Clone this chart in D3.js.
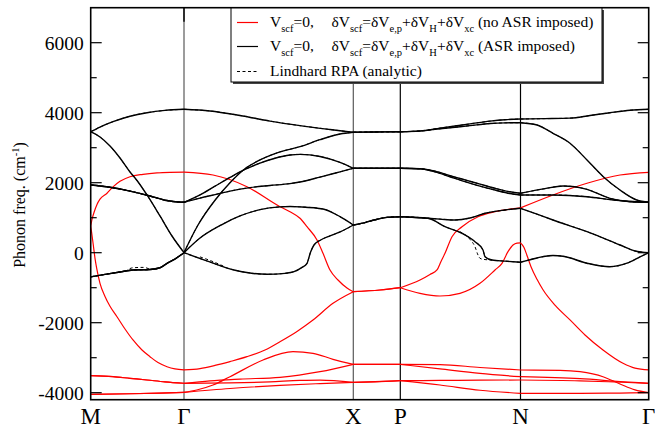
<!DOCTYPE html>
<html><head><meta charset="utf-8">
<script src="https://cdn.jsdelivr.net/npm/d3@7"></script>
<style>body{margin:0;background:#fff;} text{font-family:"Liberation Serif","DejaVu Serif","Times New Roman",Times,serif;}</style>
</head><body><svg id="c" width="655" height="428" font-family="Liberation Serif, DejaVu Serif, Times New Roman, serif"></svg>
<script>
// ---- data ----
const kLabels = ["M","Γ","X","P","N","Γ"];
const kPos = [0,0.933,2.626,3.096,4.298,5.58];
const yMajor = [-4000,-2000,0,2000,4000,6000];
const yMinor = [-3000,-1000,1000,3000,5000];
const yDomain = [-4200,7000];

// ASR imposed (black solid)
const asr1 = [[0,3457],[0.093,3590],[0.223,3743],[0.393,3900],[0.563,4000],[0.743,4065],[0.933,4097],[1.193,4050],[1.493,3920],[1.793,3760],[2.093,3630],[2.393,3520],[2.626,3440],[2.843,3450],[3.096,3457],[3.293,3480],[3.493,3560],[3.793,3680],[3.993,3760],[4.143,3800],[4.298,3820],[4.543,3830],[4.793,3845],[4.993,3920],[5.193,4000],[5.393,4070],[5.58,4097]];
const asr2 = [[0,3457],[0.093,3306],[0.193,3049],[0.293,2706],[0.393,2306],[0.463,2063],[0.563,1649],[0.693,1049],[0.813,477],[0.933,0],[1.073,791],[1.243,1500],[1.393,2000],[1.543,2400],[1.693,2650],[1.893,2880],[2.093,3029],[2.293,3230],[2.493,3390],[2.626,3440],[2.843,3450],[3.096,3457],[3.293,3475],[3.493,3540],[3.793,3630],[3.993,3690],[4.143,3710],[4.298,3714],[4.463,3649],[4.623,3411],[4.793,3126],[4.963,2649],[5.126,2171],[5.293,1791],[5.46,1506],[5.58,1440]];
const asr3 = [[0,1934],[0.193,1870],[0.393,1760],[0.593,1620],[0.743,1500],[0.933,1440],[1.093,1560],[1.243,1660],[1.393,1760],[1.593,1860],[1.793,1920],[1.993,1975],[2.093,2020],[2.293,2160],[2.493,2310],[2.626,2411],[2.843,2411],[3.096,2411],[3.293,2400],[3.443,2330],[3.593,2200],[3.743,2080],[3.893,1960],[4.043,1840],[4.193,1740],[4.298,1697],[4.543,1830],[4.723,1906],[4.963,1811],[5.193,1554],[5.393,1457],[5.58,1440]];
const asr4 = [[0,1934],[0.193,1870],[0.393,1760],[0.593,1620],[0.743,1500],[0.933,1440],[1.093,1650],[1.243,1900],[1.393,2150],[1.543,2380],[1.693,2560],[1.843,2700],[1.993,2791],[2.093,2810],[2.293,2750],[2.493,2580],[2.626,2411],[2.843,2411],[3.096,2411],[3.293,2395],[3.443,2310],[3.593,2170],[3.743,2030],[3.893,1900],[4.043,1790],[4.193,1690],[4.298,1649],[4.623,1649],[4.963,1600],[5.223,1506],[5.58,1440]];
const asr5 = [[0,-690],[0.143,-620],[0.293,-550],[0.423,-494],[0.593,-480],[0.693,-430],[0.763,-303],[0.853,-160],[0.933,0],[1.093,420],[1.303,791],[1.493,1050],[1.693,1230],[1.893,1310],[1.993,1320],[2.093,1310],[2.323,1250],[2.493,1029],[2.626,791],[2.743,860],[2.843,940],[2.963,1010],[3.096,1029],[3.293,1000],[3.493,960],[3.643,934],[3.793,990],[3.943,1126],[4.143,1220],[4.298,1269],[4.463,1100],[4.623,934],[4.963,600],[5.293,220],[5.443,50],[5.58,0]];
const asr6 = [[0,-690],[0.143,-620],[0.293,-550],[0.423,-494],[0.593,-480],[0.693,-430],[0.763,-303],[0.853,-160],[0.933,0],[1.183,-257],[1.433,-494],[1.593,-580],[1.763,-617],[1.943,-590],[2.033,-543],[2.113,-420],[2.163,-303],[2.2,29],[2.233,220],[2.3,363],[2.393,480],[2.5,600],[2.626,791],[2.743,860],[2.843,940],[2.963,1010],[3.096,1029],[3.373,983],[3.543,743],[3.713,554],[3.843,314],[3.923,77],[3.943,-114],[4.013,-209],[4.143,-240],[4.298,-274],[4.463,-150],[4.623,-80],[4.723,-100],[4.963,-300],[5.193,-400],[5.363,-300],[5.493,-120],[5.58,0]];

// Lindhard RPA (dashed): follows the ASR bands, with these visible deviations
const lind1 = [[0.343,-540],[0.423,-430],[0.523,-420],[0.593,-470]];
const lind2 = [[3.693,600],[3.793,380],[3.843,171],[3.873,-66],[3.893,-160],[3.923,-189],[4.013,-209]];
const lind3 = [[1.093,-120],[1.183,-210],[1.333,-390]];

// no ASR imposed (red)
const noasr1 = [[0,760],[0.013,950],[0.033,1150],[0.063,1380],[0.093,1530],[0.163,1700],[0.223,1880],[0.293,2040],[0.393,2171],[0.523,2240],[0.663,2280],[0.793,2295],[0.933,2300],[1.223,2220],[1.563,1886],[1.893,1314],[1.993,1171],[2.093,983],[2.163,743],[2.263,363],[2.323,-17],[2.393,-494],[2.473,-780],[2.563,-1009],[2.626,-1114],[2.893,-1066],[3.096,-1000],[3.293,-780],[3.393,-620],[3.463,-494],[3.503,-250],[3.543,-17],[3.613,457],[3.713,743],[3.873,1029],[4.043,1171],[4.298,1280],[4.623,1649],[4.963,1983],[5.293,2220],[5.58,2297]];
const noasr2 = [[0,760],[0.008,600],[0.026,220],[0.043,-160],[0.06,-446],[0.093,-874],[0.143,-1250],[0.193,-1530],[0.263,-1829],[0.343,-2180],[0.423,-2494],[0.513,-2780],[0.593,-2971],[0.673,-3140],[0.763,-3257],[0.843,-3320],[0.933,-3350],[1.093,-3310],[1.243,-3220],[1.393,-3110],[1.563,-2971],[1.743,-2780],[1.893,-2543],[2.063,-2250],[2.223,-1923],[2.423,-1446],[2.626,-1114],[2.893,-1066],[3.096,-1000],[3.293,-1160],[3.493,-1237],[3.693,-1160],[3.893,-874],[4.043,-494],[4.113,-303],[4.173,29],[4.223,220],[4.263,275],[4.298,280],[4.333,150],[4.363,-80],[4.403,-400],[4.463,-760],[4.523,-1060],[4.643,-1500],[4.793,-1920],[4.943,-2350],[5.123,-2780],[5.323,-3160],[5.443,-3300],[5.58,-3350]];
const noasr3 = [[0,-3514],[0.223,-3543],[0.393,-3590],[0.563,-3637],[0.743,-3690],[0.933,-3731],[1.193,-3660],[1.493,-3610],[1.893,-3560],[2.293,-3400],[2.626,-3189],[2.843,-3189],[3.096,-3189],[3.493,-3195],[3.893,-3280],[4.298,-3351],[4.693,-3360],[4.893,-3400],[5.123,-3543],[5.293,-3750],[5.443,-3920],[5.58,-4000]];
const noasr4 = [[0,-3514],[0.223,-3543],[0.393,-3590],[0.563,-3637],[0.743,-3690],[0.933,-3731],[1.393,-3720],[1.793,-3690],[2.093,-3650],[2.293,-3640],[2.626,-3703],[2.843,-3690],[3.096,-3657],[3.493,-3650],[3.893,-3640],[4.298,-3637],[4.893,-3660],[5.293,-3700],[5.58,-3731]];
const noasr5 = [[0,-4050],[0.393,-4030],[0.693,-4010],[0.933,-3989],[1.06,-3923],[1.223,-3780],[1.393,-3543],[1.723,-3066],[2.023,-2829],[2.223,-2874],[2.423,-3046],[2.626,-3189],[2.843,-3189],[3.096,-3189],[3.493,-3320],[3.893,-3450],[4.298,-3543],[4.893,-3600],[5.293,-3680],[5.58,-3731]];
const noasr6 = [[0,-4050],[0.393,-4030],[0.693,-4010],[0.933,-3989],[1.393,-3880],[1.893,-3790],[2.293,-3740],[2.626,-3703],[2.843,-3686],[3.096,-3657],[3.493,-3780],[3.893,-3930],[4.298,-4017],[4.893,-4017],[5.293,-4010],[5.58,-4000]];

const legendRows = [
  [["V"],["scf","sub"],["=0,"],["δV","tab"],["scf","sub"],["=δV"],["e,p","sub"],["+δV"],["H","sub"],["+δV"],["xc","sub"],[" (no ASR imposed)"]],
  [["V"],["scf","sub"],["=0,"],["δV","tab"],["scf","sub"],["=δV"],["e,p","sub"],["+δV"],["H","sub"],["+δV"],["xc","sub"],[" (ASR imposed)"]],
  [["Lindhard RPA (analytic)"]]
];

// ---- drawing ----
const FONT = "Liberation Serif, DejaVu Serif, Times New Roman, serif";
const svg = d3.select("#c");
const X0=90.7, X1=648.7, Y0=7.7, Y1=399.7;
const x = d3.scaleLinear().domain([kPos[0], kPos[kPos.length-1]]).range([X0,X1]);
const y = d3.scaleLinear().domain(yDomain).range([Y1,Y0]);
const line = d3.line().x(d=>x(d[0])).y(d=>y(d[1])).curve(d3.curveMonotoneX);

svg.append("rect").attr("width",655).attr("height",428).attr("fill","#fff");
svg.append("clipPath").attr("id","clip").append("rect")
  .attr("x",X0).attr("y",Y0).attr("width",X1-X0).attr("height",Y1-Y0);

// vertical lines at high-symmetry points
kPos.slice(1,kPos.length-1).forEach((k,i)=>{
  svg.append("line").attr("x1",x(k)).attr("x2",x(k)).attr("y1",Y0).attr("y2",Y1)
    .attr("stroke", i<2 ? "#5a5a5a" : "#000").attr("stroke-width",1.2);
});
svg.append("line").attr("x1",x(kPos[1])).attr("x2",x(kPos[1])).attr("y1",Y0).attr("y2",Y0+14)
  .attr("stroke","#000").attr("stroke-width",1.4);

function segments(band){
  const out=[];
  for(let i=0;i<kPos.length-1;i++){
    const s = band.filter(d=>d[0]>=kPos[i]-1e-9 && d[0]<=kPos[i+1]+1e-9);
    if(s.length>1) out.push(s);
  }
  return out;
}
function drawBands(g, bands, stroke, width, dash, split){
  bands.forEach(b=>{
    (split?segments(b):[b]).forEach(s=>{
      const p = g.append("path").attr("d",line(s)).attr("fill","none")
        .attr("stroke",stroke).attr("stroke-width",width).attr("stroke-linejoin","round");
      if(dash) p.attr("stroke-dasharray",dash);
    });
  });
}
const g = svg.append("g").attr("clip-path","url(#clip)");
drawBands(g,[noasr1,noasr2,noasr3,noasr4,noasr5,noasr6],"#ff0000",1.2,null,true);
drawBands(g,[asr1,asr2,asr3,asr4,asr5,asr6],"#000",1.4,null,true);
drawBands(g,[asr1,asr2,asr3,asr4,asr5,asr6],"#000",1.0,"3,2.5",true);
drawBands(g,[lind1,lind2,lind3],"#000",1.0,"3,2.5",false);

// frame
svg.append("rect").attr("x",X0).attr("y",Y0).attr("width",X1-X0).attr("height",Y1-Y0)
  .attr("fill","none").attr("stroke","#000").attr("stroke-width",1.6);

// y ticks (both sides, inward)
yMajor.forEach(v=>{
  svg.append("line").attr("x1",X0).attr("x2",X0+11).attr("y1",y(v)).attr("y2",y(v)).attr("stroke","#000").attr("stroke-width",1.2);
  svg.append("line").attr("x1",X1).attr("x2",X1-11).attr("y1",y(v)).attr("y2",y(v)).attr("stroke","#000").attr("stroke-width",1.2);
  svg.append("text").attr("font-family",FONT).attr("x",X0-7).attr("y",y(v)).attr("dy","0.36em").attr("text-anchor","end")
    .attr("font-size",19.5).text(v);
});
yMinor.forEach(v=>{
  svg.append("line").attr("x1",X0).attr("x2",X0+6).attr("y1",y(v)).attr("y2",y(v)).attr("stroke","#000").attr("stroke-width",1.2);
  svg.append("line").attr("x1",X1).attr("x2",X1-6).attr("y1",y(v)).attr("y2",y(v)).attr("stroke","#000").attr("stroke-width",1.2);
});

// x labels
kLabels.forEach((l,i)=>{
  svg.append("text").attr("font-family",FONT).attr("x",x(kPos[i])).attr("y",424).attr("text-anchor","middle")
    .attr("font-size",23).text(l);
});

// y label
const yl = svg.append("text").attr("font-family",FONT).attr("transform","translate(25,205) rotate(-90)")
  .attr("text-anchor","middle").attr("font-size",16);
yl.append("tspan").text("Phonon freq. (cm");
yl.append("tspan").attr("font-size",10.5).attr("dy",-6).text("-1");
yl.append("tspan").attr("dy",6).text(")");

// legend
const lg = svg.append("g");
lg.append("rect").attr("x",233).attr("y",10).attr("width",371).attr("height",74).attr("fill","#444");
lg.append("rect").attr("x",231).attr("y",8).attr("width",371).attr("height",74)
  .attr("fill","#fff").attr("stroke","#000").attr("stroke-width",1);
const rowBase=[27,51,76], rowLine=[22.5,46.5,71.5];
const rowStroke=["#ff0000","#000","#000"], rowDash=[null,null,"3,2.5"];
legendRows.forEach((parts,i)=>{
  const ln = lg.append("line").attr("x1",237).attr("x2",258).attr("y1",rowLine[i]).attr("y2",rowLine[i])
    .attr("stroke",rowStroke[i]).attr("stroke-width",1.2);
  if(rowDash[i]) ln.attr("stroke-dasharray",rowDash[i]);
  const t = lg.append("text").attr("font-family",FONT).attr("x",270).attr("y",rowBase[i]).attr("font-size",15.5).style("white-space","pre");
  let shifted=false;
  parts.forEach(p=>{
    const ts = t.append("tspan").text(p[0]);
    if(p[1]==="sub"){ ts.attr("font-size",10.5); if(!shifted){ts.attr("dy",5); shifted=true;} }
    else {
      if(shifted){ ts.attr("dy",-5); shifted=false; }
      if(p[1]==="tab") ts.attr("x",331.5);
    }
  });
});
</script></body></html>
